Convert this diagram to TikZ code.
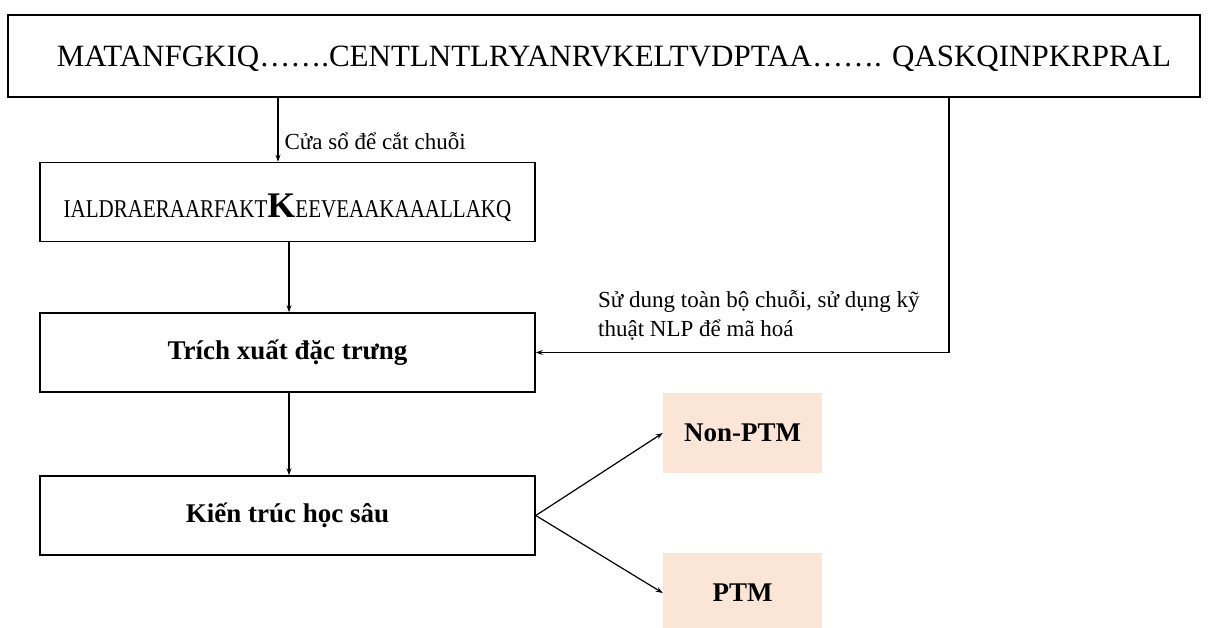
\documentclass[tikz,border=0pt]{standalone}
\usepackage{fontspec}
\setmainfont{Liberation Serif}
\usetikzlibrary{arrows.meta}
\definecolor{peach}{HTML}{FBE5D6}
\newcommand{\tallcaps}[1]{\scalebox{1}[1.22]{#1}}
\begin{document}
\begin{tikzpicture}[x=1pt,y=-1pt,
  box/.style={draw=black,line width=1.6pt,rectangle,inner sep=0pt,
              minimum width=495pt,minimum height=79pt},
  outbox/.style={fill=peach,rectangle,inner sep=0pt,
              minimum width=159pt,minimum height=80pt},
  arr/.style={line width=1.2pt,-{Stealth[length=7pt,width=5pt]}},
  lbl/.style={font=\fontsize{23}{29}\selectfont,inner sep=0pt},
  boldtxt/.style={font=\fontsize{27}{31}\selectfont\bfseries}]
  \clip (0,0) rectangle (1208,627);
  \fill[white] (0,0) rectangle (1208,627);

  % full protein sequence
  \node[draw=black,line width=1.6pt,rectangle,inner sep=0pt,
        minimum width=1192pt,minimum height=82pt] (seq) at (604,56) {};
  \node[font=\fontsize{31}{37}\selectfont,inner sep=0pt] (seqtxt) at (614,59)
    {MATANFGKIQ…….CENTLNTLRYANRVKELTVDPTAA……. QASKQINPKRPRAL};

  % windowed fragment with the central residue
  \node[box] (win) at (287.5,202) {};
  \node[inner sep=0pt,anchor=base,font=\fontsize{21}{26}\selectfont] (wintxt) at (287.5,217)
    {\tallcaps{IALDRAERAARFAKT}{\fontsize{36}{40}\selectfont\bfseries K}\tallcaps{EEVEAAKAAALLAKQ}};

  \node[box,boldtxt] (feat) at (287.5,352.5) {Trích xuất đặc trưng};
  \node[box,boldtxt] (model) at (287.5,515.5) {Kiến trúc học sâu};

  \node[outbox,boldtxt] (neg) at (742.5,433) {Non-PTM};
  \node[outbox,boldtxt] (pos) at (742.5,593) {PTM};

  % connectors
  \draw[arr] ([xshift=-326pt]seq.south) -- ([xshift=-326pt]seq.south |- win.north)
    node[lbl,pos=0.68,anchor=west,xshift=6pt] {Cửa sổ để cắt chuỗi};
  \draw[arr] ([xshift=1.5pt]win.south) -- ([xshift=1.5pt]feat.north);
  \draw[arr] ([xshift=1.5pt]feat.south) -- ([xshift=1.5pt]model.north);
  \draw[arr] ([xshift=345pt]seq.south) |- (feat.east);
  \node[lbl,align=left,anchor=west] (enc) at (598,315)
    {Sử dung toàn bộ chuỗi, sử dụng kỹ\\thuật NLP để mã hoá};
  \draw[arr] (model.east) -- (neg.west);
  \draw[arr] (model.east) -- (pos.west);
\end{tikzpicture}
\end{document}
